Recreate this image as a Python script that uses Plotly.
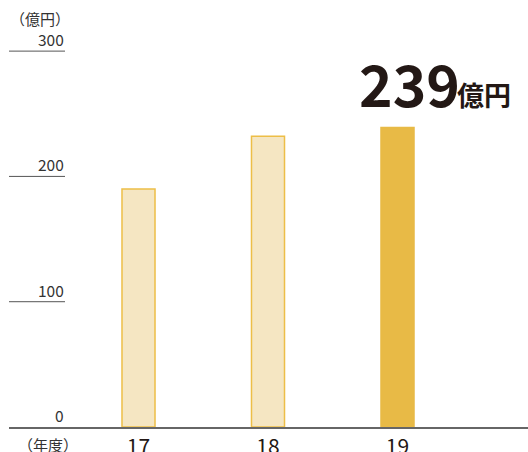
import plotly.graph_objects as go

years = [17, 18, 19]
year_labels = ["17", "18", "19"]
values = [190, 232, 239]
y_ticks = [0, 100, 200, 300]
y_tick_labels = ["0", "100", "200", "300"]
highlight_value = "239"
highlight_unit = "億円"
unit_label = "（億円）"
year_unit_label = "（年度）"

FONT = "Noto Sans CJK JP"
REF_H = 452
W, H = 528, 460
K = H / REF_H
L = 9
PLOT_BOTTOM = 426 * K
B = H - PLOT_BOTTOM
PW, PH = W - L, PLOT_BOTTOM

def px(x):
    return (x - L) / PW

def py(y):
    return (PLOT_BOTTOM - y * K) / PH

y_max = 300 * PH / (PLOT_BOTTOM - 51 * K)

fill_colors = ["#F5E6C2", "#F5E6C2", "#E8BA46"]
line_colors = ["#EDBE47", "#EDBE47", "#E8BA46"]

fig = go.Figure()
fig.add_trace(go.Bar(
    x=years, y=values, width=0.255,
    marker=dict(color=fill_colors, line=dict(color=line_colors, width=1.5)),
    hoverinfo="skip",
))

shapes = []
annotations = []
for v, lab in zip(y_ticks, y_tick_labels):
    if v > 0:
        shapes.append(dict(type="line", xref="paper", yref="y", x0=0, x1=px(65),
                           y0=v, y1=v, line=dict(color="#555555", width=1)))
    annotations.append(dict(text=lab, xref="paper", yref="y", x=px(66), y=v,
                            xanchor="right", yanchor="bottom", showarrow=False,
                            font=dict(family=FONT, size=15.5, color="#333333"), yshift=-1))

annotations.append(dict(text=unit_label, xref="paper", yref="paper", x=px(40), y=py(18),
                        xanchor="center", yanchor="middle", showarrow=False,
                        font=dict(family=FONT, size=15, color="#333333")))
annotations.append(dict(text=year_unit_label, xref="paper", yref="paper", x=px(48), y=py(443),
                        xanchor="center", yanchor="middle", showarrow=False,
                        font=dict(family=FONT, size=15, color="#333333")))
annotations.append(dict(text="<b>" + highlight_value + "</b>", xref="paper", yref="paper",
                        x=px(462), y=py(82), xanchor="right", yanchor="middle", showarrow=False,
                        font=dict(family=FONT, size=57, color="#231815")))
annotations.append(dict(text="<b>" + highlight_unit + "</b>", xref="paper", yref="paper",
                        x=px(455), y=py(94), xanchor="left", yanchor="middle", showarrow=False,
                        font=dict(family=FONT, size=27, color="#231815")))

fig.update_layout(
    width=W, height=H,
    margin=dict(l=L, r=0, t=0, b=B, pad=0),
    plot_bgcolor="white", paper_bgcolor="white",
    showlegend=False,
    xaxis=dict(range=[16.0, 16.0 + PW / 129.5], tickvals=years, ticktext=year_labels,
               showgrid=False, zeroline=False, showline=True, linecolor="#666666", linewidth=1.5,
               ticks="", tickfont=dict(family=FONT, size=21, color="#231815"),
               fixedrange=True),
    yaxis=dict(range=[0, y_max], showgrid=False, zeroline=False, showticklabels=False,
               showline=False, ticks="", fixedrange=True),
    shapes=shapes,
    annotations=annotations,
)

fig.write_html("out.html", config={"displayModeBar": False},
               post_script="document.body.style.margin='0';document.body.style.overflow='hidden';")
